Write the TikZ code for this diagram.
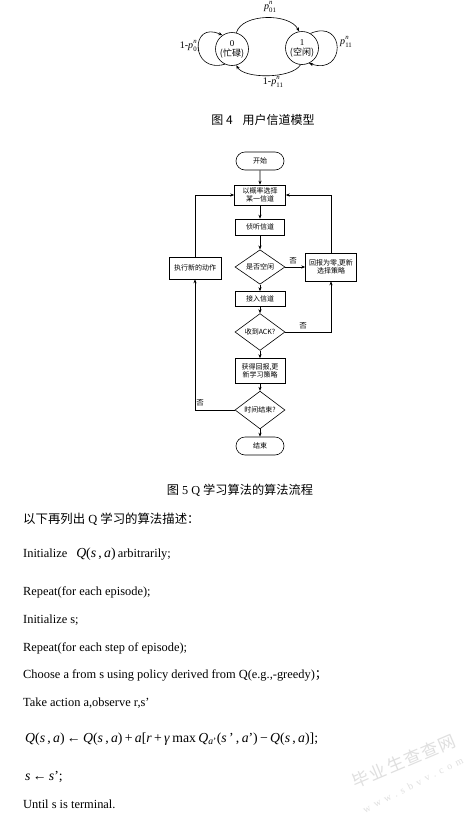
\documentclass[tikz,border=0pt]{standalone}
\usepackage{fontspec}
\setmainfont{Liberation Serif}
\newfontfamily\cjk{Noto Sans CJK SC}
\newfontfamily\wmcjk[LetterSpace=10]{Noto Sans CJK SC}
\newfontfamily\wmlat[LetterSpace=45]{Liberation Serif}
\usetikzlibrary{shapes.geometric,shapes.misc,arrows.meta}
\newcommand{\pnlab}[1]{\textit{p}\hspace{0.2pt}\raisebox{-2.6pt}{\fontsize{6.8}{7}\selectfont\shortstack[l]{\textit{n}\\#1}}}
\begin{document}
\begin{tikzpicture}[x=1pt,y=-1pt,
  fbox/.style={draw, rectangle, inner sep=1pt, line width=0.6pt, align=center,
    font=\cjk\fontsize{7}{8.5}\selectfont},
  fdia/.style={draw, diamond, inner sep=0pt, line width=0.6pt, align=center,
    minimum width=50pt, minimum height=27pt, font=\cjk\fontsize{7}{8.5}\selectfont},
  fterm/.style={draw, rounded rectangle, inner sep=1pt, line width=0.6pt,
    minimum width=50pt, minimum height=18pt, font=\cjk\fontsize{7}{8.5}\selectfont},
  arr/.style={-{Stealth[length=4pt,width=3.2pt]}, line width=0.6pt},
  stnode/.style={draw, circle, inner sep=0pt, minimum size=33pt, line width=0.6pt,
    align=center, font=\fontsize{9}{10}\selectfont},
  slab/.style={inner sep=0pt, font=\fontsize{10}{11}\selectfont},
  txt/.style={anchor=base west, inner sep=0pt, font=\fontsize{12.4}{14}\selectfont},
  captxt/.style={anchor=base, inner sep=0pt, font=\fontsize{12.2}{14}\selectfont},
  notext/.style={inner sep=0pt, font=\cjk\fontsize{7.5}{8}\selectfont},
  wmark/.style={inner sep=0pt, text=gray!25}
]
\useasboundingbox[fill=white] (0,0) rectangle (476,817);

% ---------- state model ----------
\node[stnode] (s0) at (232,49) {0\\{\cjk (忙碌)}};
\node[stnode] (s1) at (302,48) {1\\{\cjk (空闲)}};
\draw[arr] (s0.75) .. controls (242,13) and (290,13) .. (s1.100);
\draw[arr] (s1.265) .. controls (292,79) and (244,79) .. (s0.285);
\draw[arr] (s0.245) .. controls (190,74) and (190,20) .. (s0.125);
\draw[arr] (s1.60) .. controls (346,18) and (346,76) .. (s1.295);
\node[slab] (l01) at (270,7) {\pnlab{01}};
\node[slab] (l0)  at (190,46) {1-\pnlab{01}};
\node[slab] (l11) at (273,82) {1-\pnlab{11}};
\node[slab] (l1)  at (346,42) {\pnlab{11}};
\node[captxt, font=\cjk\fontsize{12}{14}\selectfont] (cap4) at (263,124) {图 4\hspace{10pt}用户信道模型};

% ---------- flow chart ----------
\node[fterm] (start) at (260,161) {开始};
\node[fbox, minimum width=51pt, minimum height=20pt] (b1) at (260,195) {以概率选择\\某一信道};
\node[fbox, minimum width=49pt, minimum height=16pt] (b2) at (260,227) {侦听信道};
\node[fdia] (d1) at (260,267) {是否空闲};
\node[fbox, minimum width=51pt, minimum height=28pt] (r) at (331,267) {回报为零,更新\\选择策略};
\node[fbox, minimum width=52pt, minimum height=22pt] (l) at (195,268) {执行新的动作};
\node[fbox, minimum width=50pt, minimum height=15pt] (b3) at (260,299) {接入信道};
\node[fdia, minimum height=29pt] (d2) at (260,332) {收到ACK?};
\node[fbox, minimum width=50pt, minimum height=25pt] (b4) at (260,371) {获得回报,更\\新学习策略};
\node[fdia] (d3) at (260,410) {时间结束?};
\node[fterm] (end) at (260,446) {结束};

\draw[arr] (start) -- (b1);
\draw[arr] (b1) -- (b2);
\draw[arr] (b2) -- (d1);
\draw[arr] (d1) -- (b3);
\draw[arr] (b3) -- (d2);
\draw[arr] (d2) -- (b4);
\draw[arr] (b4) -- (d3);
\draw[arr] (d3) -- (end);
\draw[arr] (d1.east) -- (r.west);
\node[notext] (n1) at (293,261) {否};
\draw[arr] (d2.east) -| (r.south);
\node[notext] (n2) at (303,326) {否};
\draw[arr] (r.north) |- (b1.east);
\draw[arr] (l.north) |- (b1.west);
\draw[arr] (d3.west) -| (l.south);
\node[notext] (n3) at (200,403) {否};

\node[captxt] (cap5) at (240,494) {{\cjk 图} 5 Q {\cjk 学习算法的算法流程}};

% ---------- text ----------
\node[txt] (t0) at (23,523) {{\cjk 以下再列出} Q {\cjk 学习的算法描述：}};
\node[txt] (t1) at (23,557) {Initialize\hspace{9pt}{\fontsize{13.8}{16}\selectfont\textit{Q}(\textit{s}\,,\,\textit{a})}\,arbitrarily;};
\node[txt] (t2) at (23,595) {Repeat(for each episode);};
\node[txt] (t3) at (23,623) {Initialize s;};
\node[txt] (t4) at (23,651) {Repeat(for each step of episode);};
\node[txt] (t5) at (23,678) {Choose a from s using policy derived from Q(e.g.,-greedy){\cjk ；}};
\node[txt] (t6) at (23,706) {Take action a,observe r,s’};
\node[txt, font=\fontsize{13.8}{16}\selectfont] (t7) at (25,742)
  {\textit{Q}(\textit{s}\,,\,\textit{a})\,←\,\textit{Q}(\textit{s}\,,\,\textit{a})\,+\,\textit{a}[\textit{r}\,+\,\textit{γ}\,max\,\textit{Q}\textsubscript{\textit{a}'}(\textit{s}\,'\,,\,\textit{a}')\,−\,\textit{Q}(\textit{s}\,,\,\textit{a})];};
\node[txt, font=\fontsize{13.8}{16}\selectfont] (t8) at (25,780) {\textit{s}\,←\,\textit{s}';};
\node[txt] (t9) at (23,808) {Until s is terminal.};

% ---------- watermark ----------
\node[wmark, rotate=23, font=\wmcjk\fontsize{17}{18}\selectfont] (wm1) at (404,761) {毕业生查查网};
\node[wmark, rotate=27, font=\wmlat\fontsize{10}{11}\selectfont] (wm2) at (413,785) {www.sbvv.com};
\end{tikzpicture}
\end{document}
